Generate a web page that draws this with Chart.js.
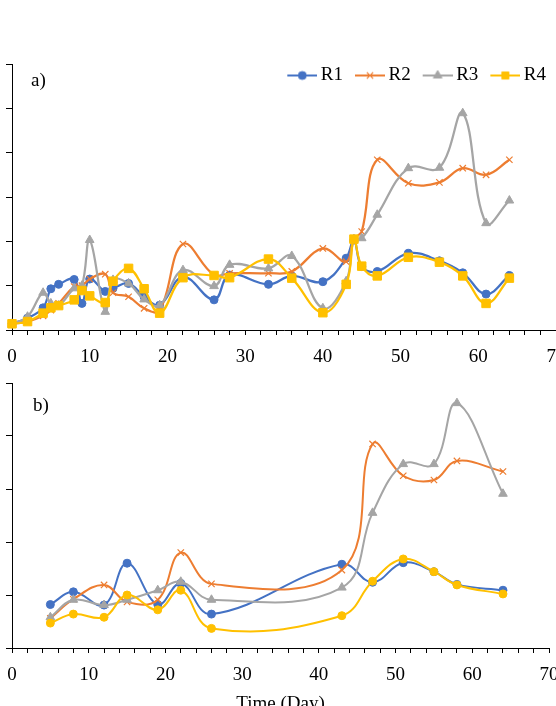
<!DOCTYPE html>
<html>
<head>
<meta charset="utf-8">
<script src="https://cdn.jsdelivr.net/npm/chart.js@4.4.1/dist/chart.umd.min.js"></script>
<style>
  html, body { margin: 0; padding: 0; background: #fff; overflow: hidden; }
  body { width: 556px; height: 706px; position: relative; }
  .box { position: absolute; left: 0; width: 556px; }
  .tag { position: absolute; font: 19px/19px "Liberation Serif", serif; color: #000; }
</style>
</head>
<body>
<div class="box" style="top:0;height:375px"><canvas id="chartA"></canvas></div>
<div class="box" style="top:370px;height:346px"><canvas id="chartB"></canvas></div>
<span class="tag" style="left:31px;top:70px">a)</span>
<span class="tag" style="left:33px;top:395px">b)</span>
<script>
// panel a) sampling days and values
const daysA = [0, 2, 4, 5, 6, 8, 9, 10, 12, 13, 15, 17, 19, 22, 26, 28, 33, 36, 40, 43, 44, 45, 47, 51, 55, 58, 61, 64];
const r1A = [0.14, 0.27, 0.5, 0.93, 1.03, 1.14, 0.6, 1.15, 0.87, 0.94, 1.05, 0.75, 0.56, 1.2, 0.68, 1.24, 1.03, 1.22, 1.09, 1.62, 2.03, 1.43, 1.32, 1.73, 1.56, 1.29, 0.81, 1.23];
const r2A = [0.14, 0.19, 0.32, 0.45, 0.6, 0.98, 1.0, 1.15, 1.26, 0.84, 0.75, 0.49, 0.44, 1.94, 1.24, 1.28, 1.28, 1.32, 1.84, 1.54, 2.05, 2.22, 3.84, 3.31, 3.33, 3.65, 3.5, 3.84];
const r3A = [0.14, 0.3, 0.84, 0.6, 0.55, 0.94, 1.0, 2.03, 0.41, 1.13, 1.05, 0.69, 0.56, 1.35, 0.99, 1.47, 1.39, 1.67, 0.49, 1.1, 2.05, 2.07, 2.6, 3.65, 3.66, 4.89, 2.41, 2.92];
const r4A = [0.14, 0.19, 0.38, 0.5, 0.55, 0.68, 0.89, 0.77, 0.62, 1.1, 1.39, 0.93, 0.38, 1.18, 1.23, 1.18, 1.6, 1.17, 0.39, 1.03, 2.05, 1.44, 1.22, 1.64, 1.53, 1.22, 0.6, 1.17];

// panel b)
const daysB = [5, 8, 12, 15, 19, 22, 26, 43, 47, 51, 55, 58, 64];
const r1B = [0.82, 1.06, 0.81, 1.6, 0.82, 1.22, 0.64, 1.58, 1.24, 1.61, 1.44, 1.2, 1.09];
const r2B = [0.56, 0.92, 1.19, 0.87, 0.91, 1.8, 1.21, 1.47, 3.85, 3.25, 3.17, 3.53, 3.33];
const r3B = [0.58, 0.91, 0.81, 0.91, 1.09, 1.25, 0.91, 1.14, 2.55, 3.47, 3.47, 4.62, 2.91];
const r4B = [0.47, 0.64, 0.58, 1.0, 0.72, 1.09, 0.37, 0.61, 1.26, 1.68, 1.44, 1.19, 1.02];

const seriesNames = ["R1", "R2", "R3", "R4"];
const colors = ["#4472C4", "#ED7D31", "#A5A5A5", "#FFC000"];

Chart.defaults.font.family = '"Liberation Serif", "Times New Roman", serif';
Chart.defaults.font.size = 19;
Chart.defaults.color = "#000";

function pts(days, vals) {
    return days.map((d, i) => ({ x: d, y: vals[i] }));
}

function series(i, days, vals, style, radius, lw) {
    return {
        label: seriesNames[i],
        data: pts(days, vals),
        borderColor: colors[i],
        backgroundColor: colors[i],
        borderWidth: lw,
        pointStyle: style,
        pointRadius: radius,
        pointHoverRadius: radius,
        pointBorderWidth: style === "crossRot" ? 1.2 : 1,
        tension: 0.4,
        clip: false,
        order: 4 - i
    };
}

// line + marker icon for the legend
function legendIcon(i, style, radius) {
    const c = document.createElement("canvas");
    c.width = 36; c.height = 14;
    const ctx = c.getContext("2d");
    ctx.strokeStyle = colors[i];
    ctx.fillStyle = colors[i];
    ctx.lineWidth = 2;
    ctx.beginPath(); ctx.moveTo(6, 7); ctx.lineTo(36, 7); ctx.stroke();
    ctx.lineWidth = style === "crossRot" ? 1.2 : 1;
    Chart.helpers.drawPoint(ctx, { pointStyle: style, radius: radius, rotation: 0, borderWidth: 1 }, 21, 7);
    return c;
}

function axes(yMax, xHeight) {
    return {
        x: {
            type: "linear", min: 0, max: 70,
            border: { color: "#000", width: 1 },
            grid: { drawOnChartArea: false, drawTicks: true, tickLength: 5, color: "#000" },
            ticks: {
                stepSize: 2, autoSkip: false, maxRotation: 0, padding: 11,
                callback: v => (v % 10 === 0 ? v : "")
            },
            afterFit: s => { s.paddingLeft = 0; s.paddingRight = 0; s.height = xHeight; }
        },
        y: {
            min: 0, max: yMax,
            border: { color: "#000", width: 1 },
            grid: { drawOnChartArea: false, drawTicks: true, tickLength: 6, color: "#000" },
            ticks: { stepSize: 1, display: false },
            afterFit: s => { s.width = 12; }
        }
    };
}

const markA = [["circle", 4], ["crossRot", 4.5], ["triangle", 5], ["rect", 6]];
const markB = [["circle", 4], ["crossRot", 4.5], ["triangle", 5], ["circle", 4]];
const icons = markA.map((m, i) => legendIcon(i, m[0], m[0] === "rect" ? 5 : m[1]));

// legend sits inside the plot box, top right
const legendPos = {
    id: "legendPos",
    beforeDraw(chart) {
        const lg = chart.legend;
        if (!lg) return;
        const h = lg.bottom - lg.top;
        lg.left = 0;
        lg.right = 558;
        lg.top = 54;
        lg.bottom = 54 + h;
    }
};

new Chart(document.getElementById("chartA"), {
    type: "line",
    data: {
        datasets: [
            series(0, daysA, r1A, "circle", 4, 2.25),
            series(1, daysA, r2A, "crossRot", 4.5, 2.25),
            series(2, daysA, r3A, "triangle", 5, 2.25),
            series(3, daysA, r4A, "rect", 6, 2.25)
        ]
    },
    options: {
        responsive: true,
        maintainAspectRatio: false,
        animation: false,
        layout: { autoPadding: false, padding: { top: 23, left: 0, right: 0, bottom: 0 } },
        scales: axes(6, 45),
        plugins: {
            tooltip: { enabled: false },
            legend: {
                position: "top",
                align: "end",
                labels: {
                    usePointStyle: true,
                    pointStyleWidth: 24,
                    padding: 12,
                    color: "#000",
                    font: { size: 19 },
                    generateLabels: chart => chart.data.datasets.map((ds, i) => ({
                        text: ds.label, pointStyle: icons[i], fillStyle: ds.borderColor,
                        strokeStyle: ds.borderColor, lineWidth: 0, hidden: false, datasetIndex: i
                    }))
                }
            }
        }
    },
    plugins: [legendPos]
});

const scalesB = axes(5, 68);
scalesB.x.title = { display: true, text: "Time (Day)", color: "#000", font: { size: 19, lineHeight: 1 }, padding: { top: 0, bottom: 2 } };

new Chart(document.getElementById("chartB"), {
    type: "line",
    data: {
        datasets: markB.map((m, i) => series(i, daysB, [r1B, r2B, r3B, r4B][i], m[0], m[1], 2))
    },
    options: {
        responsive: true,
        maintainAspectRatio: false,
        animation: false,
        layout: { autoPadding: false, padding: { top: 13, left: 0, right: 7, bottom: 0 } },
        scales: scalesB,
        plugins: {
            tooltip: { enabled: false },
            legend: { display: false }
        }
    }
});
</script>
</body>
</html>
